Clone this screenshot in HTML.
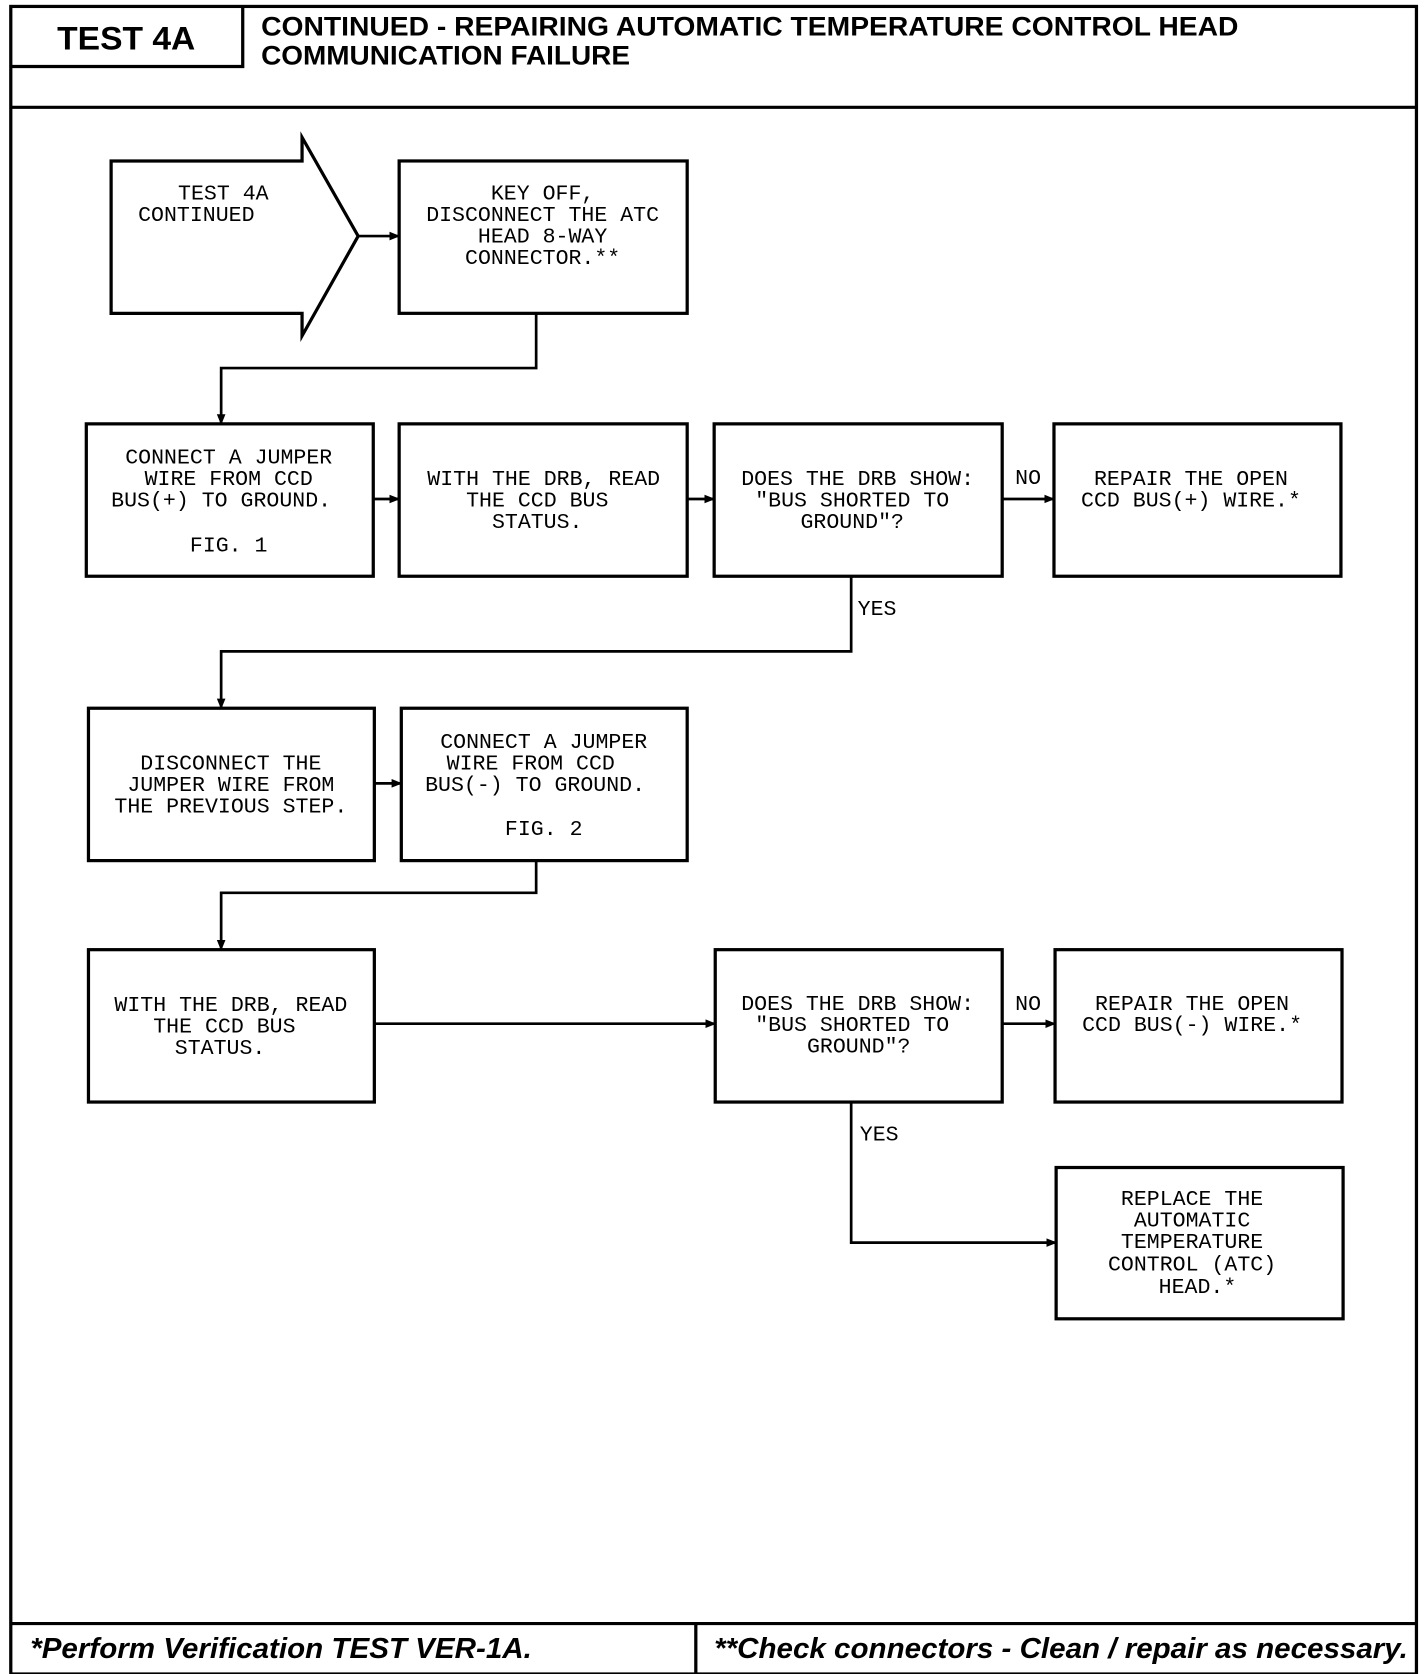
<!DOCTYPE html>
<html><head><meta charset="utf-8"><style>html,body{margin:0;padding:0;background:#fff}svg{display:block}</style></head><body>
<svg width="1424" height="1674" viewBox="0 0 1320 1560" preserveAspectRatio="none" xmlns="http://www.w3.org/2000/svg">
<defs><marker id="a" markerWidth="10" markerHeight="10" refX="9" refY="5" orient="auto" markerUnits="userSpaceOnUse"><path d="M0,1 L10,5 L0,9 z" fill="#000"/></marker></defs>
<g fill="none" stroke="#000" stroke-width="3">
<rect x="10" y="6" width="1303" height="1554"/>
<path d="M10,62 H225 V6"/>
<path d="M10,100 H1313"/>
<path d="M10,1513 H1313 M645,1513 V1560"/>
<polygon points="103,150 280,150 280,128 332,220 280,313 280,292 103,292"/>
<rect x="370" y="150" width="267" height="142"/>
<rect x="80" y="395" width="266" height="142"/>
<rect x="370" y="395" width="267" height="142"/>
<rect x="662" y="395" width="267" height="142"/>
<rect x="977" y="395" width="266" height="142"/>
<rect x="82" y="660" width="265" height="142"/>
<rect x="372" y="660" width="265" height="142"/>
<rect x="82" y="885" width="265" height="142"/>
<rect x="663" y="885" width="266" height="142"/>
<rect x="978" y="885" width="266" height="142"/>
<rect x="979" y="1088" width="266" height="141"/>
</g>
<g fill="none" stroke="#000" stroke-width="2.5" marker-end="url(#a)">
<path d="M332,220 H370"/>
<path d="M497,292 V343 H205 V395"/>
<path d="M346,465 H370"/>
<path d="M637,465 H662"/>
<path d="M929,465 H977"/>
<path d="M789,537 V607 H205 V660"/>
<path d="M347,730 H372"/>
<path d="M497,802 V832 H205 V885"/>
<path d="M347,954 H663"/>
<path d="M929,954 H978"/>
<path d="M789,1027 V1158 H979"/>
</g>
<g font-family="'Liberation Sans',sans-serif" font-weight="bold" fill="#000">
<text x="53" y="46" font-size="30" textLength="128" lengthAdjust="spacingAndGlyphs">TEST 4A</text>
<text x="242" y="33" font-size="25" textLength="906" lengthAdjust="spacingAndGlyphs">CONTINUED - REPAIRING AUTOMATIC TEMPERATURE CONTROL HEAD</text>
<text x="242" y="60" font-size="25" textLength="342" lengthAdjust="spacingAndGlyphs">COMMUNICATION FAILURE</text>
<text x="28" y="1545" font-size="27" font-style="italic" textLength="465" lengthAdjust="spacingAndGlyphs">*Perform Verification TEST VER-1A.</text>
<text x="662" y="1545" font-size="27" font-style="italic" textLength="643" lengthAdjust="spacingAndGlyphs">**Check connectors - Clean / repair as necessary.</text>
</g>
<g font-family="'Liberation Mono',monospace" font-size="20" fill="#000" text-anchor="middle">
<text x="207" y="186">TEST 4A</text>
<text x="182" y="206">CONTINUED</text>
<text x="503" y="186">KEY OFF,</text>
<text x="503" y="206">DISCONNECT THE ATC</text>
<text x="503" y="226">HEAD 8-WAY</text>
<text x="503" y="246">CONNECTOR.**</text>
<text x="212" y="432">CONNECT A JUMPER</text>
<text x="212" y="452">WIRE FROM CCD</text>
<text x="205" y="472">BUS(+) TO GROUND.</text>
<text x="212" y="514">FIG. 1</text>
<text x="504" y="452">WITH THE DRB, READ</text>
<text x="498" y="472">THE CCD BUS</text>
<text x="498" y="492">STATUS.</text>
<text x="795" y="452">DOES THE DRB SHOW:</text>
<text x="790" y="472">"BUS SHORTED TO</text>
<text x="790" y="492">GROUND"?</text>
<text x="1104" y="452">REPAIR THE OPEN</text>
<text x="1104" y="472">CCD BUS(+) WIRE.*</text>
<text x="953" y="451">NO</text>
<text x="813" y="573">YES</text>
<text x="214" y="717">DISCONNECT THE</text>
<text x="214" y="737">JUMPER WIRE FROM</text>
<text x="214" y="757">THE PREVIOUS STEP.</text>
<text x="504" y="697">CONNECT A JUMPER</text>
<text x="492" y="717">WIRE FROM CCD</text>
<text x="496" y="737">BUS(-) TO GROUND.</text>
<text x="504" y="778">FIG. 2</text>
<text x="214" y="942">WITH THE DRB, READ</text>
<text x="208" y="962">THE CCD BUS</text>
<text x="204" y="982">STATUS.</text>
<text x="795" y="941">DOES THE DRB SHOW:</text>
<text x="790" y="961">"BUS SHORTED TO</text>
<text x="796" y="981">GROUND"?</text>
<text x="1105" y="941">REPAIR THE OPEN</text>
<text x="1105" y="961">CCD BUS(-) WIRE.*</text>
<text x="953" y="941">NO</text>
<text x="815" y="1063">YES</text>
<text x="1105" y="1123">REPLACE THE</text>
<text x="1105" y="1143">AUTOMATIC</text>
<text x="1105" y="1163">TEMPERATURE</text>
<text x="1105" y="1184">CONTROL (ATC)</text>
<text x="1110" y="1205">HEAD.*</text>
</g>
</svg>
</body></html>
